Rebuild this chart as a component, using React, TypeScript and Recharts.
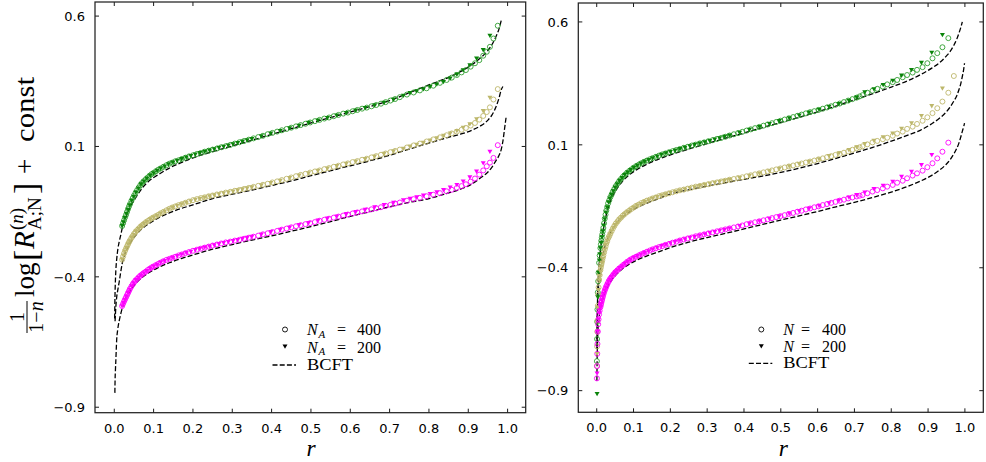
import React from 'react';
import { ComposedChart, Scatter, Line, XAxis, YAxis } from 'recharts';

const X_TICKS = [0, 0.1, 0.2, 0.3, 0.4, 0.5, 0.6, 0.7, 0.8, 0.9, 1.0];
const Y_TICKS = [-0.9, -0.4, 0.1, 0.6];

// ---- left panel (N_A) ----
const LEFT_R400 = [0.02, 0.0225, 0.025, 0.0275, 0.03, 0.0325, 0.035, 0.0375, 0.04, 0.0435, 0.047, 0.0505, 0.054, 0.058, 0.062, 0.066, 0.07, 0.075, 0.08, 0.085, 0.09, 0.095, 0.1, 0.106, 0.112, 0.1185, 0.125, 0.1325, 0.14, 0.1475, 0.155, 0.1635, 0.172, 0.181, 0.19, 0.2, 0.21, 0.22, 0.23, 0.24, 0.25, 0.261, 0.272, 0.2835, 0.295, 0.3065, 0.318, 0.33, 0.342, 0.354, 0.366, 0.378, 0.39, 0.402, 0.414, 0.426, 0.438, 0.45, 0.462, 0.474, 0.486, 0.498, 0.51, 0.522, 0.534, 0.546, 0.558, 0.57, 0.582, 0.594, 0.606, 0.618, 0.63, 0.642, 0.654, 0.666, 0.678, 0.69, 0.702, 0.714, 0.726, 0.744, 0.761, 0.777, 0.794, 0.811, 0.828, 0.845, 0.858, 0.871, 0.883, 0.894, 0.906, 0.917, 0.928, 0.938, 0.947, 0.955, 0.964, 0.975];
const LEFT_GREEN_400 = [-0.205, -0.194, -0.183, -0.172, -0.162, -0.151, -0.14, -0.13, -0.121, -0.109, -0.098, -0.088, -0.078, -0.068, -0.058, -0.049, -0.041, -0.033, -0.026, -0.019, -0.012, -0.006, -0.001, 0.005, 0.011, 0.016, 0.022, 0.028, 0.034, 0.038, 0.043, 0.047, 0.052, 0.057, 0.062, 0.066, 0.071, 0.075, 0.08, 0.084, 0.088, 0.092, 0.097, 0.101, 0.106, 0.111, 0.116, 0.121, 0.126, 0.131, 0.136, 0.141, 0.147, 0.152, 0.157, 0.162, 0.167, 0.172, 0.177, 0.182, 0.187, 0.192, 0.197, 0.202, 0.207, 0.211, 0.216, 0.221, 0.226, 0.23, 0.235, 0.24, 0.245, 0.249, 0.254, 0.259, 0.264, 0.27, 0.276, 0.282, 0.289, 0.299, 0.307, 0.315, 0.323, 0.333, 0.344, 0.355, 0.364, 0.374, 0.384, 0.393, 0.406, 0.419, 0.431, 0.448, 0.463, 0.482, 0.514, 0.563];
const LEFT_TAN_400 = [-0.334, -0.322, -0.31, -0.3, -0.291, -0.283, -0.275, -0.267, -0.26, -0.251, -0.243, -0.235, -0.228, -0.221, -0.215, -0.209, -0.203, -0.197, -0.191, -0.186, -0.181, -0.176, -0.172, -0.167, -0.162, -0.156, -0.151, -0.145, -0.139, -0.134, -0.13, -0.125, -0.121, -0.116, -0.111, -0.106, -0.102, -0.098, -0.095, -0.091, -0.088, -0.084, -0.081, -0.077, -0.074, -0.07, -0.067, -0.063, -0.059, -0.055, -0.051, -0.047, -0.043, -0.038, -0.034, -0.029, -0.024, -0.019, -0.014, -0.009, -0.005, 0.0, 0.004, 0.008, 0.013, 0.017, 0.022, 0.026, 0.031, 0.035, 0.04, 0.044, 0.049, 0.053, 0.058, 0.063, 0.068, 0.073, 0.078, 0.083, 0.088, 0.096, 0.104, 0.111, 0.119, 0.127, 0.135, 0.143, 0.15, 0.157, 0.164, 0.171, 0.18, 0.19, 0.203, 0.217, 0.232, 0.25, 0.28, 0.32];
const LEFT_MAG_400 = [-0.512, -0.503, -0.494, -0.486, -0.478, -0.47, -0.462, -0.454, -0.446, -0.437, -0.428, -0.421, -0.414, -0.408, -0.402, -0.396, -0.391, -0.385, -0.38, -0.374, -0.369, -0.364, -0.36, -0.355, -0.35, -0.345, -0.34, -0.335, -0.331, -0.327, -0.323, -0.318, -0.314, -0.309, -0.305, -0.3, -0.296, -0.292, -0.288, -0.284, -0.28, -0.276, -0.272, -0.268, -0.265, -0.261, -0.258, -0.254, -0.25, -0.246, -0.242, -0.237, -0.233, -0.228, -0.224, -0.219, -0.215, -0.21, -0.206, -0.202, -0.198, -0.194, -0.19, -0.185, -0.181, -0.177, -0.173, -0.169, -0.165, -0.161, -0.157, -0.153, -0.149, -0.145, -0.141, -0.137, -0.133, -0.128, -0.124, -0.119, -0.115, -0.108, -0.102, -0.097, -0.091, -0.085, -0.079, -0.072, -0.066, -0.059, -0.052, -0.045, -0.035, -0.023, -0.008, 0.008, 0.024, 0.038, 0.056, 0.105];

const LEFT_R200 = [0.02, 0.0235, 0.027, 0.031, 0.035, 0.0395, 0.044, 0.0495, 0.055, 0.0615, 0.068, 0.0755, 0.083, 0.0915, 0.1, 0.109, 0.118, 0.128, 0.138, 0.149, 0.16, 0.1715, 0.183, 0.1945, 0.206, 0.218, 0.23, 0.242, 0.254, 0.266, 0.278, 0.29, 0.302, 0.314, 0.326, 0.338, 0.35, 0.374, 0.398, 0.422, 0.446, 0.47, 0.494, 0.518, 0.542, 0.566, 0.59, 0.614, 0.638, 0.662, 0.686, 0.71, 0.735, 0.752, 0.769, 0.786, 0.803, 0.82, 0.837, 0.854, 0.871, 0.887, 0.904, 0.921, 0.938, 0.955];
const LEFT_GREEN_200 = [-0.205, -0.19, -0.174, -0.158, -0.142, -0.125, -0.108, -0.092, -0.076, -0.061, -0.045, -0.034, -0.022, -0.012, -0.002, 0.007, 0.016, 0.024, 0.032, 0.039, 0.046, 0.052, 0.058, 0.064, 0.07, 0.075, 0.08, 0.085, 0.09, 0.095, 0.099, 0.104, 0.109, 0.114, 0.119, 0.124, 0.129, 0.14, 0.15, 0.16, 0.17, 0.18, 0.191, 0.2, 0.21, 0.219, 0.229, 0.238, 0.248, 0.258, 0.268, 0.28, 0.295, 0.305, 0.312, 0.32, 0.329, 0.338, 0.348, 0.361, 0.376, 0.393, 0.412, 0.438, 0.47, 0.525];
const LEFT_TAN_200 = [-0.334, -0.318, -0.302, -0.289, -0.275, -0.263, -0.25, -0.238, -0.226, -0.216, -0.206, -0.197, -0.188, -0.18, -0.172, -0.165, -0.157, -0.149, -0.141, -0.134, -0.127, -0.121, -0.115, -0.11, -0.104, -0.1, -0.095, -0.091, -0.087, -0.083, -0.079, -0.076, -0.072, -0.068, -0.064, -0.06, -0.056, -0.048, -0.04, -0.031, -0.021, -0.011, -0.002, 0.007, 0.016, 0.025, 0.034, 0.043, 0.052, 0.062, 0.072, 0.082, 0.092, 0.1, 0.107, 0.115, 0.123, 0.132, 0.141, 0.15, 0.16, 0.172, 0.186, 0.205, 0.236, 0.287];
const LEFT_MAG_200 = [-0.512, -0.5, -0.488, -0.475, -0.462, -0.449, -0.436, -0.424, -0.412, -0.403, -0.394, -0.386, -0.377, -0.369, -0.36, -0.353, -0.345, -0.339, -0.332, -0.326, -0.32, -0.314, -0.308, -0.303, -0.297, -0.292, -0.287, -0.283, -0.278, -0.274, -0.27, -0.266, -0.262, -0.258, -0.254, -0.25, -0.246, -0.237, -0.228, -0.219, -0.21, -0.201, -0.193, -0.184, -0.176, -0.168, -0.159, -0.151, -0.142, -0.133, -0.124, -0.115, -0.106, -0.1, -0.094, -0.088, -0.082, -0.075, -0.067, -0.057, -0.047, -0.034, -0.018, 0.004, 0.036, 0.08];

const LEFT_BCFT_R = [0.001, 0.0015, 0.002, 0.003, 0.004, 0.006, 0.009, 0.013, 0.016, 0.02, 0.03, 0.04, 0.055, 0.07, 0.09, 0.11, 0.14, 0.17, 0.2, 0.25, 0.3, 0.35, 0.4, 0.45, 0.5, 0.55, 0.6, 0.65, 0.7, 0.75, 0.8, 0.85, 0.88, 0.91, 0.93, 0.95, 0.96, 0.97, 0.978, 0.984, 0.988, 0.992, 0.996];
const LEFT_GREEN_BCFT = [-0.56, -0.5, -0.46, -0.41, -0.375, -0.335, -0.295, -0.262, -0.243, -0.215, -0.17, -0.135, -0.095, -0.062, -0.03, -0.01, 0.017, 0.038, 0.056, 0.08, 0.102, 0.124, 0.146, 0.168, 0.19, 0.211, 0.232, 0.253, 0.276, 0.306, 0.336, 0.365, 0.387, 0.414, 0.438, 0.468, 0.49, 0.52, 0.55, 0.585, null, null, null];
const LEFT_TAN_BCFT = [null, null, -0.57, -0.54, -0.515, -0.48, -0.45, -0.415, -0.385, -0.35, -0.3, -0.272, -0.24, -0.216, -0.194, -0.176, -0.155, -0.138, -0.124, -0.1, -0.083, -0.067, -0.05, -0.032, -0.012, 0.007, 0.026, 0.045, 0.066, 0.09, 0.113, 0.135, 0.147, 0.163, 0.178, 0.201, 0.22, 0.25, 0.285, 0.318, 0.33, null, null];
const LEFT_MAG_BCFT = [null, -0.845, -0.8, -0.755, -0.72, -0.645, -0.6, -0.565, -0.545, -0.522, -0.48, -0.455, -0.425, -0.403, -0.382, -0.366, -0.346, -0.33, -0.316, -0.294, -0.276, -0.259, -0.243, -0.225, -0.207, -0.188, -0.168, -0.15, -0.131, -0.114, -0.1, -0.078, -0.064, -0.043, -0.022, 0.002, 0.02, 0.045, 0.065, 0.09, 0.12, 0.165, 0.21];

// ---- right panel (N) ----
const RIGHT_R400 = [0.0005, 0.001, 0.0015, 0.002, 0.003, 0.004, 0.005, 0.0065, 0.008, 0.01, 0.01125, 0.0125, 0.01375, 0.015, 0.0165, 0.018, 0.02, 0.022, 0.024, 0.026, 0.0285, 0.031, 0.034, 0.037, 0.0405, 0.044, 0.048, 0.052, 0.0565, 0.061, 0.066, 0.071, 0.0765, 0.082, 0.088, 0.094, 0.1005, 0.107, 0.114, 0.121, 0.1285, 0.136, 0.144, 0.152, 0.1605, 0.169, 0.178, 0.187, 0.1965, 0.206, 0.216, 0.226, 0.2365, 0.247, 0.258, 0.269, 0.2805, 0.292, 0.3035, 0.315, 0.3265, 0.338, 0.3495, 0.361, 0.3725, 0.384, 0.3955, 0.407, 0.4185, 0.43, 0.4415, 0.453, 0.4645, 0.476, 0.4875, 0.499, 0.5105, 0.522, 0.5335, 0.545, 0.5565, 0.568, 0.5795, 0.591, 0.6025, 0.614, 0.6255, 0.637, 0.6485, 0.66, 0.6715, 0.683, 0.6945, 0.706, 0.714, 0.722, 0.735, 0.749, 0.762, 0.777, 0.789, 0.804, 0.816, 0.831, 0.843, 0.858, 0.87, 0.885, 0.898, 0.912, 0.925, 0.939, 0.955, 0.97];
const RIGHT_GREEN_400 = [-0.78, -0.69, -0.62, -0.57, -0.5, -0.455, -0.42, -0.38, -0.35, -0.32, -0.305, -0.29, -0.278, -0.265, -0.252, -0.238, -0.219, -0.2, -0.184, -0.168, -0.153, -0.138, -0.126, -0.113, -0.102, -0.09, -0.079, -0.068, -0.058, -0.048, -0.039, -0.03, -0.022, -0.014, -0.007, 0.0, 0.007, 0.013, 0.019, 0.025, 0.031, 0.036, 0.041, 0.046, 0.051, 0.056, 0.061, 0.065, 0.07, 0.074, 0.079, 0.083, 0.088, 0.092, 0.097, 0.101, 0.106, 0.11, 0.115, 0.119, 0.124, 0.128, 0.133, 0.138, 0.143, 0.148, 0.153, 0.158, 0.163, 0.168, 0.173, 0.178, 0.183, 0.188, 0.193, 0.198, 0.203, 0.208, 0.213, 0.218, 0.223, 0.228, 0.233, 0.237, 0.242, 0.247, 0.252, 0.257, 0.263, 0.268, 0.274, 0.28, 0.286, 0.292, 0.297, 0.302, 0.312, 0.32, 0.328, 0.337, 0.346, 0.355, 0.364, 0.375, 0.384, 0.394, 0.405, 0.416, 0.432, 0.452, 0.473, 0.497, 0.534, null];
const RIGHT_TAN_400 = [-0.8, -0.72, -0.66, -0.615, -0.555, -0.51, -0.48, -0.45, -0.43, -0.41, -0.399, -0.388, -0.379, -0.37, -0.36, -0.35, -0.338, -0.325, -0.314, -0.302, -0.292, -0.281, -0.272, -0.262, -0.251, -0.24, -0.23, -0.22, -0.212, -0.203, -0.196, -0.188, -0.181, -0.174, -0.168, -0.161, -0.155, -0.148, -0.143, -0.137, -0.132, -0.127, -0.123, -0.118, -0.114, -0.109, -0.105, -0.101, -0.097, -0.093, -0.089, -0.085, -0.082, -0.078, -0.074, -0.07, -0.067, -0.063, -0.06, -0.056, -0.053, -0.049, -0.046, -0.042, -0.039, -0.035, -0.032, -0.028, -0.024, -0.02, -0.016, -0.012, -0.008, -0.004, 0.0, 0.004, 0.008, 0.012, 0.016, 0.02, 0.024, 0.028, 0.032, 0.036, 0.041, 0.045, 0.05, 0.054, 0.059, 0.063, 0.068, 0.073, 0.08, 0.086, 0.09, 0.094, 0.102, 0.11, 0.116, 0.123, 0.129, 0.137, 0.146, 0.154, 0.165, 0.174, 0.185, 0.198, 0.212, 0.229, 0.249, 0.276, 0.312, 0.38];
const RIGHT_MAG_400 = [-0.85, -0.8, -0.75, -0.71, -0.66, -0.63, -0.61, -0.59, -0.575, -0.56, -0.552, -0.543, -0.535, -0.527, -0.519, -0.51, -0.501, -0.492, -0.484, -0.476, -0.468, -0.46, -0.452, -0.444, -0.437, -0.43, -0.423, -0.416, -0.41, -0.403, -0.397, -0.39, -0.384, -0.377, -0.371, -0.365, -0.36, -0.355, -0.35, -0.345, -0.34, -0.335, -0.33, -0.325, -0.321, -0.316, -0.312, -0.307, -0.303, -0.298, -0.294, -0.289, -0.285, -0.281, -0.277, -0.272, -0.268, -0.264, -0.26, -0.256, -0.252, -0.248, -0.244, -0.24, -0.236, -0.232, -0.228, -0.223, -0.219, -0.215, -0.211, -0.207, -0.203, -0.198, -0.194, -0.19, -0.186, -0.181, -0.177, -0.172, -0.168, -0.163, -0.159, -0.154, -0.15, -0.145, -0.141, -0.136, -0.132, -0.127, -0.123, -0.118, -0.114, -0.11, -0.107, -0.104, -0.097, -0.09, -0.084, -0.077, -0.07, -0.063, -0.054, -0.046, -0.036, -0.025, -0.016, -0.005, 0.009, 0.025, 0.045, 0.072, 0.109, null];

const RIGHT_R200 = [0.001, 0.003, 0.005, 0.007, 0.0085, 0.01, 0.012, 0.014, 0.0165, 0.019, 0.022, 0.025, 0.0285, 0.032, 0.036, 0.04, 0.045, 0.05, 0.056, 0.062, 0.069, 0.076, 0.084, 0.092, 0.101, 0.11, 0.12, 0.13, 0.141, 0.152, 0.164, 0.176, 0.188, 0.2, 0.213, 0.226, 0.2395, 0.253, 0.2665, 0.28, 0.2935, 0.307, 0.3205, 0.334, 0.3475, 0.361, 0.388, 0.415, 0.442, 0.469, 0.496, 0.523, 0.55, 0.577, 0.604, 0.631, 0.658, 0.685, 0.706, 0.728, 0.753, 0.778, 0.804, 0.828, 0.855, 0.882, 0.91, 0.939];
const RIGHT_GREEN_200 = [-0.913, -0.52, -0.42, -0.37, -0.345, -0.32, -0.298, -0.275, -0.252, -0.228, -0.202, -0.175, -0.154, -0.133, -0.118, -0.103, -0.088, -0.073, -0.06, -0.046, -0.034, -0.022, -0.012, -0.002, 0.007, 0.016, 0.024, 0.032, 0.039, 0.046, 0.053, 0.06, 0.066, 0.071, 0.077, 0.083, 0.089, 0.095, 0.101, 0.106, 0.111, 0.116, 0.122, 0.127, 0.133, 0.138, 0.15, 0.162, 0.173, 0.185, 0.197, 0.209, 0.22, 0.232, 0.243, 0.255, 0.267, 0.28, 0.293, 0.314, 0.327, 0.344, 0.361, 0.382, 0.405, 0.434, 0.475, 0.547];
const RIGHT_TAN_200 = [-0.75, -0.56, -0.49, -0.45, -0.433, -0.415, -0.398, -0.38, -0.363, -0.345, -0.325, -0.305, -0.291, -0.277, -0.264, -0.251, -0.239, -0.226, -0.215, -0.203, -0.193, -0.182, -0.173, -0.164, -0.156, -0.147, -0.14, -0.132, -0.125, -0.118, -0.112, -0.106, -0.101, -0.095, -0.09, -0.085, -0.081, -0.076, -0.072, -0.067, -0.063, -0.058, -0.054, -0.05, -0.046, -0.042, -0.034, -0.025, -0.016, -0.007, 0.003, 0.013, 0.022, 0.032, 0.042, 0.055, 0.066, 0.079, 0.091, 0.104, 0.117, 0.131, 0.147, 0.166, 0.188, 0.218, 0.258, 0.33];
const RIGHT_MAG_200 = [-0.83, -0.66, -0.61, -0.585, -0.573, -0.56, -0.547, -0.533, -0.519, -0.505, -0.493, -0.48, -0.468, -0.456, -0.447, -0.437, -0.428, -0.418, -0.41, -0.401, -0.393, -0.384, -0.375, -0.366, -0.359, -0.352, -0.346, -0.339, -0.332, -0.325, -0.318, -0.311, -0.306, -0.3, -0.295, -0.289, -0.284, -0.278, -0.273, -0.268, -0.263, -0.258, -0.254, -0.249, -0.245, -0.24, -0.23, -0.22, -0.21, -0.2, -0.19, -0.18, -0.17, -0.159, -0.148, -0.137, -0.126, -0.114, -0.104, -0.093, -0.079, -0.066, -0.05, -0.029, -0.009, 0.018, 0.059, null];

const RIGHT_BCFT_R = [0.0005, 0.001, 0.002, 0.003, 0.005, 0.008, 0.012, 0.017, 0.023, 0.03, 0.04, 0.055, 0.07, 0.09, 0.11, 0.14, 0.17, 0.2, 0.25, 0.3, 0.35, 0.4, 0.45, 0.5, 0.55, 0.6, 0.65, 0.7, 0.75, 0.8, 0.85, 0.88, 0.91, 0.93, 0.95, 0.96, 0.97, 0.978, 0.984, 0.989, 0.993, 0.997, 0.999];
const RIGHT_GREEN_BCFT = [-0.72, -0.63, -0.55, -0.49, -0.42, -0.36, -0.305, -0.255, -0.205, -0.162, -0.12, -0.078, -0.048, -0.02, 0.0, 0.024, 0.043, 0.059, 0.083, 0.105, 0.127, 0.148, 0.17, 0.191, 0.212, 0.234, 0.258, 0.283, 0.308, 0.335, 0.364, 0.386, 0.412, 0.433, 0.462, 0.48, 0.505, 0.53, 0.555, 0.578, 0.6, null, null];
const RIGHT_TAN_BCFT = [-0.76, -0.67, -0.59, -0.54, -0.48, -0.43, -0.385, -0.345, -0.31, -0.28, -0.25, -0.218, -0.195, -0.172, -0.155, -0.135, -0.118, -0.1, -0.083, -0.068, -0.054, -0.04, -0.027, -0.012, 0.005, 0.024, 0.045, 0.067, 0.09, 0.115, 0.142, 0.16, 0.186, 0.207, 0.235, 0.254, 0.278, 0.3, 0.325, 0.35, 0.378, 0.41, 0.432];
const RIGHT_MAG_BCFT = [-0.86, -0.79, -0.71, -0.665, -0.625, -0.585, -0.553, -0.523, -0.498, -0.476, -0.452, -0.425, -0.404, -0.384, -0.368, -0.35, -0.334, -0.318, -0.296, -0.277, -0.26, -0.242, -0.224, -0.206, -0.189, -0.171, -0.152, -0.134, -0.114, -0.092, -0.066, -0.047, -0.024, -0.004, 0.022, 0.04, 0.063, 0.086, 0.108, 0.133, 0.155, 0.176, 0.188];

const GREEN = '#0a840a';
const GREEN_LIGHT = '#2f9e2f';
const KHAKI = '#bdb76b';
const MAGENTA = '#ff00ff';

type Pt = { r: number; v: number };
const zip = (rs: number[], vs: (number | null)[]): Pt[] =>
  rs.map((r, i) => ({ r, v: vs[i] as number })).filter(p => p.v !== null && p.v !== undefined);

const circleShape = (color: string) => (p: any) =>
  <circle cx={p.cx} cy={p.cy} r={2.5} fill="none" stroke={color} strokeWidth={0.9} />;
const triShape = (color: string) => (p: any) => {
  const { cx, cy } = p;
  return <polygon points={`${cx - 2.5},${cy - 1.9} ${cx + 2.5},${cy - 1.9} ${cx},${cy + 2.4}`} fill={color} />;
};

type Box = { l: number; r: number; t: number; b: number };

const fmtY = (v: number) => (v < 0 ? '\u2212' + Math.abs(v).toFixed(1) : v.toFixed(1));

const XTick = ({ x, payload, box }: any) => (
  <g>
    <line x1={x} x2={x} y1={box.b} y2={box.b - 4} stroke="#000" strokeWidth={0.9} />
    <line x1={x} x2={x} y1={box.t} y2={box.t + 4} stroke="#000" strokeWidth={0.9} />
    <text x={x} y={box.b + 20} textAnchor="middle" fontSize={13} fontFamily="DejaVu Sans" fill="#000">
      {Number(payload.value).toFixed(1)}
    </text>
  </g>
);

const YTick = ({ y, payload, box }: any) => (
  <g>
    <line x1={box.l} x2={box.l + 4} y1={y} y2={y} stroke="#000" strokeWidth={0.9} />
    <line x1={box.r} x2={box.r - 4} y1={y} y2={y} stroke="#000" strokeWidth={0.9} />
    <text x={box.l - 10} y={y + 4.7} textAnchor="end" fontSize={13} fontFamily="DejaVu Sans" fill="#000">
      {fmtY(Number(payload.value))}
    </text>
  </g>
);

type Family = { color: string; light: string; c400: Pt[]; c200: Pt[]; bcft: Pt[] };

function Panel({ left, width, box, xDomain, yDomain, families }: {
  left: number; width: number; box: Box; xDomain: number[]; yDomain: number[]; families: Family[];
}) {
  // axes are 1px wide/high so that Recharts still renders their ticks
  return (
    <div style={{ position: 'absolute', left, top: 0 }}>
      <ComposedChart
        width={width}
        height={462}
        margin={{ top: box.t, right: width - box.r, bottom: 462 - box.b - 1, left: box.l - 1 }}
      >
        <XAxis type="number" dataKey="r" domain={xDomain} ticks={X_TICKS} interval={0} allowDataOverflow
          height={1} axisLine={false} tickLine={false} tick={(p: any) => <XTick {...p} box={box} />} />
        <YAxis type="number" dataKey="v" domain={yDomain} ticks={Y_TICKS} interval={0} allowDataOverflow
          width={1} axisLine={false} tickLine={false} tick={(p: any) => <YTick {...p} box={box} />} />
        {families.map((f, i) => (
          <Scatter key={'c' + i} data={f.c400} dataKey="v" shape={circleShape(f.light)} isAnimationActive={false} />
        ))}
        {families.map((f, i) => (
          <Scatter key={'t' + i} data={f.c200} dataKey="v" shape={triShape(f.color)} isAnimationActive={false} />
        ))}
        {families.map((f, i) => (
          <Line key={'l' + i} data={f.bcft} dataKey="v" type="monotone" stroke="#000" strokeWidth={1.3}
            strokeDasharray="5 2.2" dot={false} activeDot={false} isAnimationActive={false} />
        ))}
      </ComposedChart>
    </div>
  );
}

const LEFT_BOX: Box = { l: 95, r: 525.7, t: 2, b: 412.7 };
const RIGHT_BOX: Box = { l: 58.3, r: 463.3, t: 3, b: 412.3 };

const leftFamilies: Family[] = [
  { color: GREEN, light: GREEN_LIGHT, c400: zip(LEFT_R400, LEFT_GREEN_400), c200: zip(LEFT_R200, LEFT_GREEN_200), bcft: zip(LEFT_BCFT_R, LEFT_GREEN_BCFT) },
  { color: KHAKI, light: KHAKI, c400: zip(LEFT_R400, LEFT_TAN_400), c200: zip(LEFT_R200, LEFT_TAN_200), bcft: zip(LEFT_BCFT_R, LEFT_TAN_BCFT) },
  { color: MAGENTA, light: MAGENTA, c400: zip(LEFT_R400, LEFT_MAG_400), c200: zip(LEFT_R200, LEFT_MAG_200), bcft: zip(LEFT_BCFT_R, LEFT_MAG_BCFT) },
];
const rightFamilies: Family[] = [
  { color: GREEN, light: GREEN_LIGHT, c400: zip(RIGHT_R400, RIGHT_GREEN_400), c200: zip(RIGHT_R200, RIGHT_GREEN_200), bcft: zip(RIGHT_BCFT_R, RIGHT_GREEN_BCFT) },
  { color: KHAKI, light: KHAKI, c400: zip(RIGHT_R400, RIGHT_TAN_400), c200: zip(RIGHT_R200, RIGHT_TAN_200), bcft: zip(RIGHT_BCFT_R, RIGHT_TAN_BCFT) },
  { color: MAGENTA, light: MAGENTA, c400: zip(RIGHT_R400, RIGHT_MAG_400), c200: zip(RIGHT_R200, RIGHT_MAG_200), bcft: zip(RIGHT_BCFT_R, RIGHT_MAG_BCFT) },
];

const SERIF = 'Liberation Serif';

function LegendMarks({ x, rows }: { x: number; rows: number[] }) {
  const mx = x - 22;
  return (
    <g>
      <circle cx={mx} cy={rows[0] - 5.5} r={2.5} fill="none" stroke="#000" strokeWidth={0.9} />
      <polygon points={`${mx - 2.5},${rows[1] - 8} ${mx + 2.5},${rows[1] - 8} ${mx},${rows[1] - 3.8}`} fill="#000" />
      <line x1={x - 34.5} x2={x - 11} y1={rows[2] - 5} y2={rows[2] - 5} stroke="#000" strokeWidth={1.3} strokeDasharray="5 2.2" />
    </g>
  );
}

export default function App() {
  return (
    <div style={{ position: 'absolute', left: 0, top: 0, width: 986, height: 462, background: '#fff' }}>
      <Panel left={0} width={540} box={LEFT_BOX} xDomain={[-0.049, 1.046]} yDomain={[-0.921, 0.654]} families={leftFamilies} />
      <Panel left={520} width={466} box={RIGHT_BOX} xDomain={[-0.05, 1.05]} yDomain={[-0.988, 0.677]} families={rightFamilies} />
      <svg width={986} height={462} style={{ position: 'absolute', left: 0, top: 0, pointerEvents: 'none' }}>
        <rect x={95} y={2} width={430.7} height={410.7} fill="none" stroke="#222" strokeWidth={1.25} />
        <rect x={578.3} y={3} width={405} height={409.3} fill="none" stroke="#222" strokeWidth={1.25} />

        <text x={311} y={456.3} textAnchor="middle" fontFamily={SERIF} fontStyle="italic" fontSize={23.5}>r</text>
        <text x={783.3} y={456.3} textAnchor="middle" fontFamily={SERIF} fontStyle="italic" fontSize={23.5}>r</text>

        <g transform="translate(33.5,204) rotate(-90)" fontFamily={SERIF} fill="#000">
          <text x={-113} y={-10} textAnchor="middle" fontSize={20}>1</text>
          <line x1={-129} x2={-97} y1={-6.5} y2={-6.5} stroke="#000" strokeWidth={1} />
          <text x={-113} y={9.5} textAnchor="middle" fontSize={20}>1{'\u2212'}<tspan fontStyle="italic">n</tspan></text>
          <text x={-93} y={0} fontSize={27}>log</text>
          <text x={-57} y={3} fontSize={34}>[</text>
          <text x={-45} y={0} fontSize={29} fontStyle="italic">R</text>
          <text x={-26} y={-11} fontSize={19}>(<tspan fontStyle="italic">n</tspan>)</text>
          <text x={-26} y={7} fontSize={19}>A;N</text>
          <text x={10} y={3} fontSize={34}>]</text>
          <text x={30} y={0} fontSize={27}>+</text>
          <text x={62} y={0} fontSize={27} textLength={65} lengthAdjust="spacingAndGlyphs">const</text>
        </g>

        <LegendMarks x={307} rows={[335, 352.5, 370]} />
        <g fontFamily={SERIF} fill="#000" fontSize={16}>
          <text x={307} y={335} fontStyle="italic">N</text>
          <text x={318.5} y={338} fontSize={11} fontStyle="italic">A</text>
          <text x={337} y={335}>=</text>
          <text x={357} y={335}>400</text>
          <text x={307} y={352.5} fontStyle="italic">N</text>
          <text x={318.5} y={355.3} fontSize={11} fontStyle="italic">A</text>
          <text x={337} y={352.5}>=</text>
          <text x={357} y={352.5}>200</text>
          <text x={307} y={370} textLength={46} lengthAdjust="spacingAndGlyphs">BCFT</text>
        </g>
        <LegendMarks x={783.3} rows={[335, 352.3, 368.3]} />
        <g fontFamily={SERIF} fill="#000" fontSize={16}>
          <text x={783.3} y={335} fontStyle="italic">N</text>
          <text x={801} y={335}>=</text>
          <text x={822} y={335}>400</text>
          <text x={783.3} y={352.3} fontStyle="italic">N</text>
          <text x={801} y={352.3}>=</text>
          <text x={822} y={352.3}>200</text>
          <text x={783.3} y={368.3} textLength={46} lengthAdjust="spacingAndGlyphs">BCFT</text>
        </g>
      </svg>
    </div>
  );
}
